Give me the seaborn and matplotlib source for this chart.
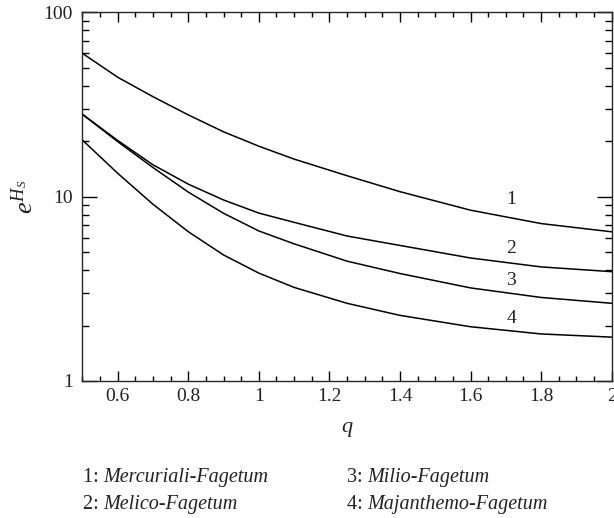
import pandas as pd
import seaborn as sns
import matplotlib.pyplot as plt
from matplotlib.ticker import FixedLocator, MultipleLocator, FormatStrFormatter, NullFormatter

# Order q and the diversity curves
q = [0.5, 0.6, 0.7, 0.8, 0.9, 1.0, 1.1, 1.25, 1.4, 1.6, 1.8, 2.0]
mercuriali = [60.0, 44.5, 34.9, 27.8, 22.5, 18.8, 16.0, 13.0, 10.65, 8.45, 7.15, 6.45]
melico = [28.0, 20.2, 14.9, 11.7, 9.6, 8.15, 7.26, 6.12, 5.44, 4.65, 4.16, 3.92]
milio = [28.0, 19.9, 14.4, 10.6, 8.13, 6.52, 5.55, 4.47, 3.83, 3.2, 2.84, 2.64]
majanthemo = [20.3, 13.4, 9.1, 6.46, 4.83, 3.85, 3.22, 2.64, 2.27, 1.97, 1.80, 1.73]

curve_ids = ['1', '2', '3', '4']
curve_names = ['Mercuriali-Fagetum', 'Melico-Fagetum', 'Milio-Fagetum', 'Majanthemo-Fagetum']
label_q = 1.715
label_vals = [9.6, 5.25, 3.49, 2.19]

sns.set_style('ticks')
plt.rcParams['font.family'] = ['Liberation Serif', 'DejaVu Serif']
plt.rcParams['mathtext.fontset'] = 'custom'
plt.rcParams['mathtext.rm'] = 'Liberation Serif'
plt.rcParams['mathtext.it'] = 'Liberation Serif:italic'

ink = '#222222'
fig = plt.figure(figsize=(6.14, 5.18), dpi=100)
ax = fig.add_axes([0.1342, 0.2645, 0.862, 0.7115])

for vals in [mercuriali, melico, milio, majanthemo]:
    df = pd.DataFrame({'q': q, 'val': vals})
    sns.lineplot(data=df, x='q', y='val', color='black', linewidth=1.1, ax=ax)

for cid, v in zip(curve_ids, label_vals):
    ax.text(label_q, v, cid, ha='center', va='center', fontsize=14, color=ink)

ax.set_yscale('log')
ax.set_xlim(0.5, 2.0)
ax.set_ylim(1, 100)

ax.xaxis.set_major_locator(FixedLocator([0.6, 0.8, 1.0, 1.2, 1.4, 1.6, 1.8, 2.0]))
ax.xaxis.set_major_formatter(FormatStrFormatter('%g'))
ax.xaxis.set_minor_locator(MultipleLocator(0.05))
ax.yaxis.set_major_locator(FixedLocator([1, 10, 100]))
ax.yaxis.set_major_formatter(FormatStrFormatter('%g'))
ax.yaxis.set_minor_locator(FixedLocator([m * d for d in [1, 10] for m in range(2, 10)]))
ax.yaxis.set_minor_formatter(NullFormatter())

ax.tick_params(axis='both', which='both', direction='in', top=True, right=True,
               width=1.0, color='black', labelsize=14, labelcolor=ink)
ax.tick_params(axis='x', which='major', length=7.2, pad=5)
ax.tick_params(axis='x', which='minor', length=3.6)
ax.tick_params(axis='y', which='major', length=10.8, pad=7)
ax.tick_params(axis='y', which='minor', length=5.0)
for s in ax.spines.values():
    s.set_linewidth(1.0)

ax.set_xlabel('$q$', fontsize=16, labelpad=11, color=ink)
ax.set_ylabel('$e^{H_S}$', fontsize=19, labelpad=4, color=ink)

# Legend text below the axes
positions = [(0.1347, 0.078), (0.1347, 0.027), (0.5647, 0.078), (0.5647, 0.027)]
for cid, name, (x, y) in zip(curve_ids, curve_names, positions):
    t = fig.text(x, y, cid + ': ', fontsize=14.5, ha='left', va='center', color=ink)
    ax.annotate(name, xy=(1, 0.5), xycoords=t, ha='left', va='center',
                fontsize=14.5, style='italic', color=ink, annotation_clip=False)

fig.savefig('out.png', dpi=100)
